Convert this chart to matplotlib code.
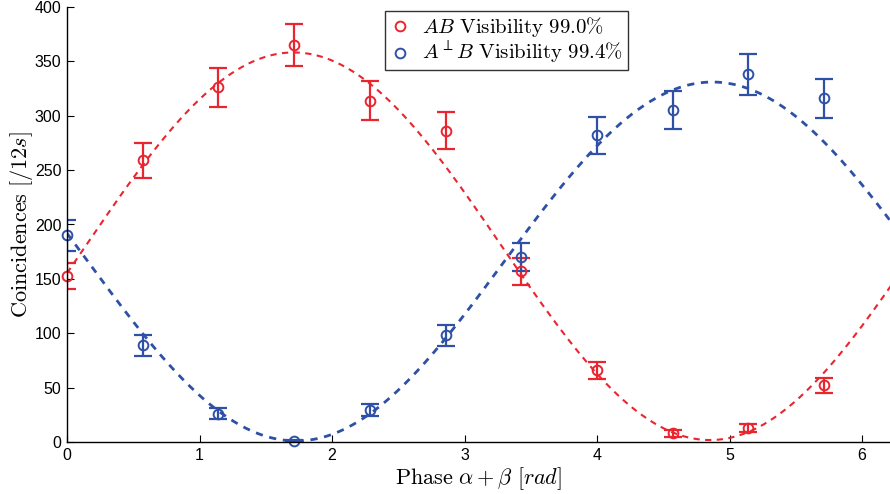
import numpy as np
import matplotlib
matplotlib.use("Agg")
import matplotlib.pyplot as plt

plt.rcParams['mathtext.fontset'] = 'cm'
plt.rcParams['font.family'] = ['Liberation Sans', 'DejaVu Sans']

# Phase settings (rad)
phase = [0.0, 0.571, 1.142, 1.714, 2.285, 2.856, 3.427, 3.998, 4.570, 5.140, 5.712]

# AB coincidences and errors
ab_counts = [153, 259, 326, 365, 314, 286, 157, 66, 8, 13, 52]
ab_err = [12, 16, 18, 19, 18, 17, 12.5, 8, 3, 3.5, 7]

# A-perp B coincidences and errors
apb_counts = [190, 89, 26, 1, 29, 98, 170, 282, 305, 338, 316]
apb_err = [14, 9.5, 5, 1, 5.5, 10, 13, 17, 17.5, 18.5, 18]

# Fit curves: offset + amplitude * cos(x - peak_phase)
ab_fit = dict(offset=180.0, amplitude=178.2, peak=1.71)
apb_fit = dict(offset=166.0, amplitude=165.0, peak=4.87)

ab_label = r'$AB\ \mathrm{Visibility\ 99.0\%}$'
apb_label = r'$A^{\perp}B\ \mathrm{Visibility\ 99.4\%}$'

red = '#EA2530'
blue = '#2E50A6'

fig = plt.figure(figsize=(8.9, 4.94), dpi=100)
ax = fig.add_axes([67/890, 1-442/494, 1-67/890, (442-7)/494])

xs = np.linspace(0, 6.3, 400)
ax.plot(xs, ab_fit['offset'] + ab_fit['amplitude']*np.cos(xs - ab_fit['peak']),
        color=red, ls=(0, (3.0, 2.6)), lw=1.5)
ax.plot(xs, apb_fit['offset'] + apb_fit['amplitude']*np.cos(xs - apb_fit['peak']),
        color=blue, ls=(0, (2.6, 2.4)), lw=2.0)

ax.errorbar(phase, ab_counts, yerr=ab_err, fmt='none', ecolor=red,
            elinewidth=1.6, capsize=6.4, capthick=1.6)
ax.errorbar(phase, apb_counts, yerr=apb_err, fmt='none', ecolor=blue,
            elinewidth=1.6, capsize=6.4, capthick=1.6)
ax.plot(phase, ab_counts, 'o', mfc='none', mec=red, mew=1.4, ms=7,
        label=ab_label, clip_on=False)
ax.plot(phase, apb_counts, 'o', mfc='none', mec=blue, mew=1.4, ms=7,
        label=apb_label, clip_on=False)

ax.set_xlim(0, 6.21)
ax.set_ylim(0, 400)
ax.set_xticks(range(0, 7))
ax.set_yticks(range(0, 401, 50))
ax.tick_params(direction='in', length=5, width=0.8, labelsize=11.5, pad=4)
for s in ['top', 'right']:
    ax.spines[s].set_visible(False)
for s in ['left', 'bottom']:
    ax.spines[s].set_linewidth(1.0)

ax.set_ylabel(r'$\mathrm{Coincidences}\ [/12s]$', fontsize=16, labelpad=0)
ax.set_xlabel(r'$\mathrm{Phase}\ \alpha+\beta\ [rad]$', fontsize=16, labelpad=2)

leg = fig.legend(loc='upper left', bbox_to_anchor=(385/890, 1 - 11/494),
                 bbox_transform=fig.transFigure,
                 fontsize=15, frameon=True, fancybox=False, handlelength=1.0,
                 handletextpad=0.6, borderpad=0.2, labelspacing=0.05,
                 borderaxespad=0.0)
leg.get_frame().set_edgecolor('black')
leg.get_frame().set_linewidth(1.0)

fig.savefig('out.png', dpi=100)
